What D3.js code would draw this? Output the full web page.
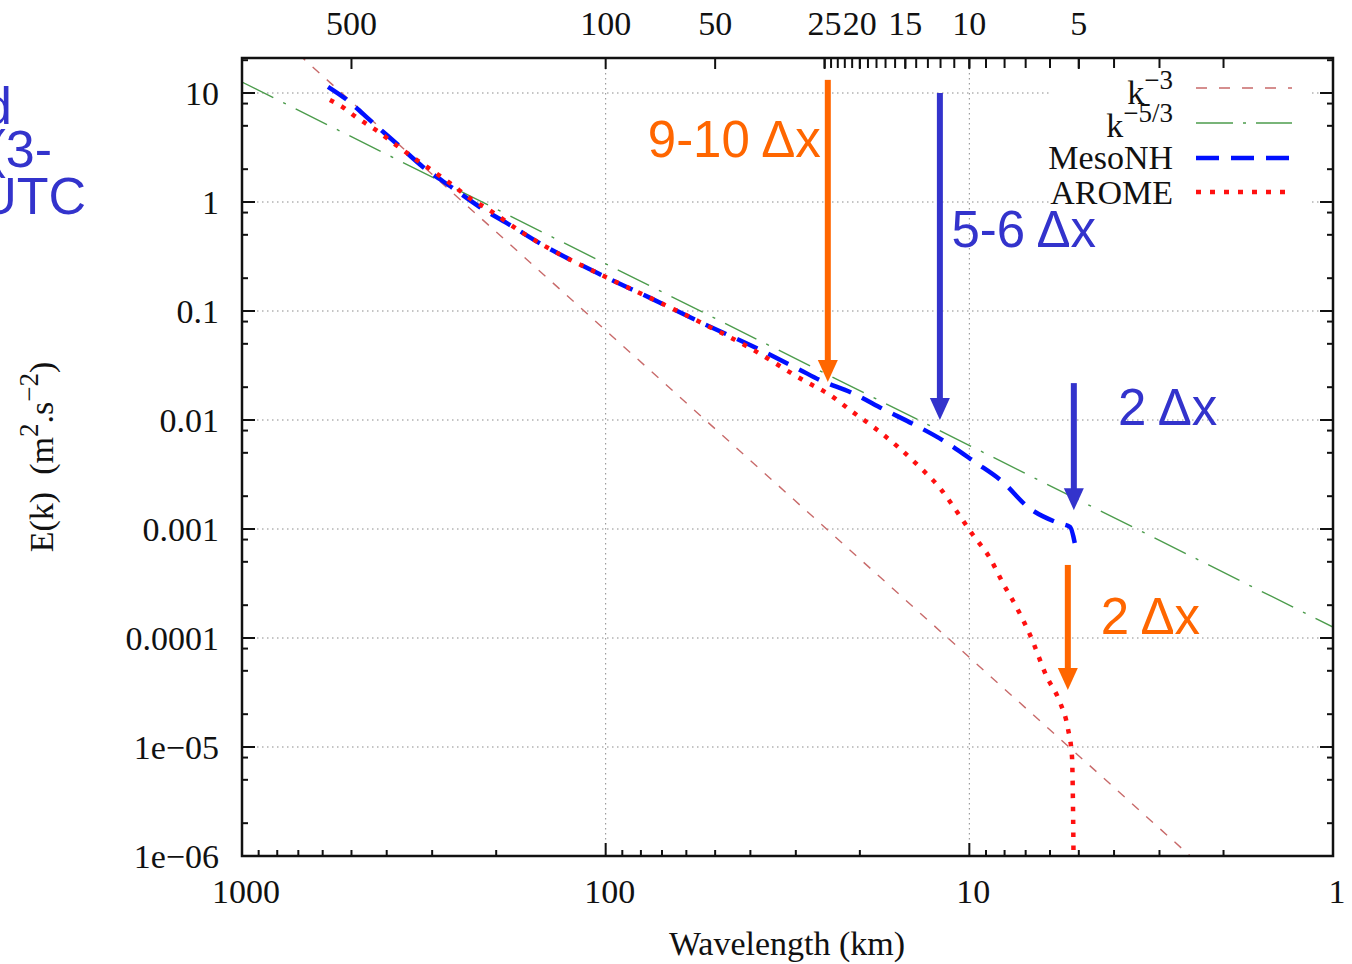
<!DOCTYPE html>
<html>
<head>
<meta charset="utf-8">
<script src="https://cdn.jsdelivr.net/npm/d3@7"></script>
<style>
  html, body { margin: 0; padding: 0; background: #fff; }
  svg { display: block; }
</style>
</head>
<body>
<svg id="chart" width="1352" height="964"></svg>
<script>
// ---------------- DATA ----------------
// MesoNH spectrum (wavelength km, E m2 s-2)
const mesoLambda = [580, 518, 436, 372, 318, 263, 222, 181, 152, 100, 75.5, 55.1, 40.1, 29.2, 25.8, 21.0, 17.1, 14.1, 11.5, 9.66, 8.09, 6.90, 5.71, 5.28, 5.13];
const mesoE      = [11.4, 8.8, 5.3, 3.33, 2.10, 1.34, 0.90, 0.60, 0.42, 0.205, 0.132, 0.0793, 0.0488, 0.0288, 0.0233, 0.0177, 0.0124, 0.0090, 0.00615, 0.00412, 0.00270, 0.00159, 0.00114, 0.00104, 0.000745];
// AROME spectrum
const aromeLambda = [573, 524, 486, 450, 417, 387, 361, 334, 310, 268, 232, 213, 169, 152, 100, 75.5, 55.1, 40.1, 28.7, 24.2, 20.9, 17.9, 15.7, 13.7, 12.05, 10.8, 9.77, 8.78, 8.09, 7.35, 6.81, 6.12, 5.64, 5.36, 5.22, 5.19, 5.16];
const aromeE      = [8.62, 7.28, 6.03, 5.09, 4.30, 3.55, 3.00, 2.48, 2.10, 1.49, 1.04, 0.88, 0.52, 0.42, 0.205, 0.132, 0.0793, 0.0458, 0.0233, 0.0170, 0.0118, 0.0081, 0.00565, 0.00371, 0.00238, 0.00143, 8.81e-4, 5.42e-4, 3.20e-4, 1.81e-4, 1.07e-4, 4.39e-5, 2.59e-5, 1.49e-5, 8.09e-6, 3.27e-6, 5e-7];
// Reference power-law lines (end points)
const refLambda = [1000, 1];
const k3E  = [66.4, 6.64e-8];
const k53E = [12.6, 1.26e-4];

// Axis ticks
const yTickValues = [1e-6, 1e-5, 1e-4, 1e-3, 1e-2, 0.1, 1, 10];
const yTickLabels = ["1e\u221206", "1e\u221205", "0.0001", "0.001", "0.01", "0.1", "1", "10"];
const yMinorFactors = [2, 5, 8];
const xTickValues = [1000, 100, 10, 1];
const xTickLabels = ["1000", "100", "10", "1"];
const xMinorFactors = [2, 3, 4, 5, 6, 7, 8, 9];
const topTickValues = [500, 100, 50, 25, 20, 15, 10, 5];
const topTickLabels = ["500", "100", "50", "25", "20", "15", "10", "5"];
const topMinorTicks = [25, 24, 23, 22, 21, 20, 19, 18, 17, 16, 15, 14, 13, 12, 11, 10, 9, 8, 7, 6, 5, 4, 3, 2];
const xGridValues = [100, 10];

// Annotations
const arrowLambda = [24.5, 12.05, 5.16, 5.36];
const arrowTopE   = [13.2, 10, 0.0218, 4.68e-4];
const arrowTipE   = [0.0223, 0.01, 0.00149, 3.33e-5];
const arrowColor  = ["#ff6600", "#3333cc", "#3333cc", "#ff6600"];
const noteText    = ["9-10 \u0394x", "5-6 \u0394x", "2 \u0394x", "2 \u0394x"];
const noteLambda  = [76.6, 11.2, 3.90, 4.35];
const noteE       = [2.59, 0.386, 0.0090, 1.09e-4];
const noteColor   = ["#ff6600", "#3333cc", "#3333cc", "#ff6600"];
const sideText    = ["d", "(3-", "UTC"];

// ---------------- LAYOUT ----------------
const L = 242, R = 1333, T = 58, B = 856;
const serif = "'Liberation Serif', 'Times New Roman', serif";
const sans = "'Liberation Sans', Arial, sans-serif";
const svg = d3.select("#chart");

const x = d3.scaleLog().domain([1000, 1]).range([L, R]);
const y = d3.scaleLog().domain([1e-6, 20.95]).range([B, T]);

// clip
svg.append("defs").append("clipPath").attr("id", "plotclip")
  .append("rect").attr("x", L).attr("y", T).attr("width", R - L).attr("height", B - T);

// ---------- grid ----------
const grid = svg.append("g").attr("stroke", "#8a8a8a").attr("stroke-width", 1)
  .attr("stroke-dasharray", "1.5,3.5");
grid.selectAll("line.h").data(yTickValues.filter(v => v > 1e-6)).join("line")
  .attr("x1", L).attr("x2", R).attr("y1", d => y(d)).attr("y2", d => y(d));
grid.selectAll("line.v").data(xGridValues).join("line")
  .attr("y1", T).attr("y2", B).attr("x1", d => x(d)).attr("x2", d => x(d));

// ---------- series ----------
const plot = svg.append("g").attr("clip-path", "url(#plotclip)");
const line = d3.line().x(d => x(d[0])).y(d => y(d[1]));
const lineSmooth = d3.line().x(d => x(d[0])).y(d => y(d[1])).curve(d3.curveMonotoneX);

plot.append("path").datum(refLambda.map((l, i) => [l, k3E[i]]))
  .attr("d", line).attr("fill", "none").attr("stroke", "#c86a6a")
  .attr("stroke-width", 1.4).attr("stroke-dasharray", "9,10");
plot.append("path").datum(refLambda.map((l, i) => [l, k53E[i]]))
  .attr("d", line).attr("fill", "none").attr("stroke", "#4c9c4c")
  .attr("stroke-width", 1.4).attr("stroke-dasharray", "35,11,3,11");
const mesoPath = plot.append("path").datum(mesoLambda.map((l, i) => [l, mesoE[i]]))
  .attr("d", lineSmooth).attr("fill", "none").attr("stroke", "#0010ff")
  .attr("stroke-width", 4.5);
// fit the dash pattern so the curve both starts and ends with a dash
{
  const len = mesoPath.node().getTotalLength();
  const n = Math.round((len - 22) / 34);
  const period = (len - 22) / n;
  const dash = period * 0.65;
  mesoPath.attr("stroke-dasharray", `${dash},${period - dash}`);
}
plot.append("path").datum(aromeLambda.map((l, i) => [l, aromeE[i]]))
  .attr("d", lineSmooth).attr("fill", "none").attr("stroke", "#ff1010")
  .attr("stroke-width", 4.5).attr("stroke-dasharray", "4.5,8.5");

// ---------- legend ----------
svg.append("rect").attr("x", 1050).attr("y", 70).attr("width", 262).attr("height", 142).attr("fill", "#fff");
const lg = svg.append("g").attr("font-family", serif).attr("font-size", 34).attr("fill", "#111");
const legY = [88, 123, 158, 192];
const t1 = lg.append("text").attr("x", 1173).attr("y", 104).attr("text-anchor", "end");
t1.append("tspan").text("k");
t1.append("tspan").attr("dy", -15).attr("font-size", 27).text("\u22123");
const t2 = lg.append("text").attr("x", 1173).attr("y", 137).attr("text-anchor", "end");
t2.append("tspan").text("k");
t2.append("tspan").attr("dy", -15).attr("font-size", 27).text("\u22125/3");
lg.append("text").attr("x", 1173).attr("y", 169).attr("text-anchor", "end").text("MesoNH");
lg.append("text").attr("x", 1173).attr("y", 204).attr("text-anchor", "end").text("AROME");
const legStyles = [
  {c: "#c86a6a", w: 1.4, d: "11,12"},
  {c: "#4c9c4c", w: 1.6, d: "37,10,3,10"},
  {c: "#0010ff", w: 4.5, d: "23,12"},
  {c: "#ff1010", w: 4.5, d: "5,9"}
];
legStyles.forEach((s, i) => {
  svg.append("line").attr("x1", 1196).attr("x2", 1292).attr("y1", legY[i]).attr("y2", legY[i])
    .attr("stroke", s.c).attr("stroke-width", s.w).attr("stroke-dasharray", s.d);
});

// ---------- axes / ticks ----------
const ax = svg.append("g").attr("stroke", "#111").attr("stroke-width", 2);
const yMinor = [];
yTickValues.forEach(v => { if (v < 10) yMinorFactors.forEach(f => yMinor.push(v * f)); });
yMinor.push(20);
yTickValues.forEach(v => {
  ax.append("line").attr("x1", L).attr("x2", L + 13).attr("y1", y(v)).attr("y2", y(v));
  ax.append("line").attr("x1", R).attr("x2", R - 13).attr("y1", y(v)).attr("y2", y(v));
});
yMinor.filter(v => y(v) > T).forEach(v => {
  ax.append("line").attr("x1", L).attr("x2", L + 6).attr("y1", y(v)).attr("y2", y(v));
  ax.append("line").attr("x1", R).attr("x2", R - 6).attr("y1", y(v)).attr("y2", y(v));
});
xTickValues.forEach(v => {
  ax.append("line").attr("x1", x(v)).attr("x2", x(v)).attr("y1", B).attr("y2", B - 13);
});
[100, 10, 1].forEach(v => xMinorFactors.forEach(f => {
  const val = v * f;
  ax.append("line").attr("x1", x(val)).attr("x2", x(val)).attr("y1", B).attr("y2", B - 6);
}));
topTickValues.forEach(v => {
  ax.append("line").attr("x1", x(v)).attr("x2", x(v)).attr("y1", T).attr("y2", T + 11);
});
topMinorTicks.forEach(v => {
  ax.append("line").attr("x1", x(v)).attr("x2", x(v)).attr("y1", T).attr("y2", T + 10);
});
svg.append("rect").attr("x", L).attr("y", T).attr("width", R - L).attr("height", B - T)
  .attr("fill", "none").attr("stroke", "#111").attr("stroke-width", 2.5);

// tick labels
const tl = svg.append("g").attr("font-family", serif).attr("font-size", 34).attr("fill", "#111");
yTickValues.forEach((v, i) => {
  tl.append("text").attr("x", 219).attr("y", y(v) + 11.5).attr("text-anchor", "end").text(yTickLabels[i]);
});
xTickValues.forEach((v, i) => {
  tl.append("text").attr("x", x(v) + 4).attr("y", 903).attr("text-anchor", "middle").text(xTickLabels[i]);
});
topTickValues.forEach((v, i) => {
  tl.append("text").attr("x", x(v)).attr("y", 35).attr("text-anchor", "middle").text(topTickLabels[i]);
});

// axis titles
tl.append("text").attr("x", 787).attr("y", 955).attr("text-anchor", "middle").text("Wavelength (km)");
const yl = tl.append("text").attr("transform", "translate(53,457) rotate(-90)").attr("text-anchor", "middle");
yl.append("tspan").text("E(k)\u00a0\u00a0(m");
yl.append("tspan").attr("dy", -15).attr("font-size", 27).text("2");
yl.append("tspan").attr("dy", 15).text(".s");
yl.append("tspan").attr("dy", -15).attr("font-size", 27).text("\u22122");
yl.append("tspan").attr("dy", 15).text(")");

// ---------- annotations ----------
arrowLambda.forEach((l, i) => {
  const ax0 = x(l), y1 = y(arrowTopE[i]), y2 = y(arrowTipE[i]);
  const head = 22;
  svg.append("rect").attr("x", ax0 - 3).attr("y", y1).attr("width", 6).attr("height", y2 - head - y1 + 1)
    .attr("fill", arrowColor[i]);
  svg.append("path").attr("d", `M${ax0 - 10},${y2 - head} L${ax0 + 10},${y2 - head} L${ax0},${y2} Z`)
    .attr("fill", arrowColor[i]);
});
noteText.forEach((t, i) => {
  svg.append("text").attr("x", x(noteLambda[i])).attr("y", y(noteE[i]))
    .attr("font-family", sans).attr("font-size", 51).attr("fill", noteColor[i]).text(t);
});
const sideX = [12, 52, 86], sideY = [124, 167, 214];
sideText.forEach((t, i) => {
  svg.append("text").attr("x", sideX[i]).attr("y", sideY[i]).attr("text-anchor", "end")
    .attr("font-family", sans).attr("font-size", 52).attr("fill", "#3333cc").text(t);
});
</script>
</body>
</html>
